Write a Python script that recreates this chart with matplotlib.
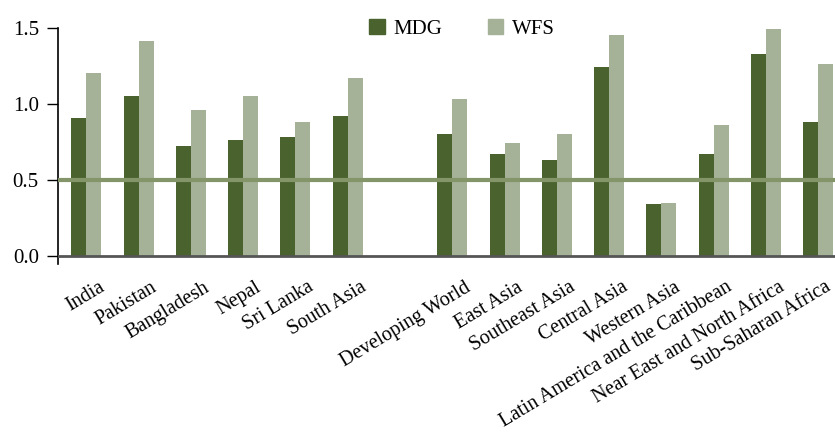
import matplotlib
matplotlib.use("Agg")
import matplotlib.pyplot as plt
import matplotlib.transforms as mtransforms
from matplotlib.patches import Patch
import numpy as np

plt.rcParams['font.family'] = ['Liberation Serif', 'DejaVu Serif']

# categories, with an empty slot between the two groups
categories = ['India', 'Pakistan', 'Bangladesh', 'Nepal', 'Sri Lanka', 'South Asia', '',
              'Developing World', 'East Asia', 'Southeast Asia', 'Central Asia', 'Western Asia',
              'Latin America and the Caribbean', 'Near East and North Africa', 'Sub-Saharan Africa']
mdg = [0.91, 1.05, 0.72, 0.76, 0.78, 0.92, None,
       0.80, 0.67, 0.63, 1.24, 0.34, 0.67, 1.33, 0.88]
wfs = [1.20, 1.41, 0.96, 1.05, 0.88, 1.17, None,
       1.03, 0.74, 0.80, 1.45, 0.35, 0.86, 1.49, 1.26]
yticks = [0.0, 0.5, 1.0, 1.5]

c_mdg = '#4a622e'
c_wfs = '#a6b298'
c_line = '#84956a'

fig = plt.figure(figsize=(8.35, 4.42), dpi=100)
ax = fig.add_axes([0.0698, 0.4027, 0.9302, 0.5346])

x = np.arange(len(categories))
w = 0.287
idx = [i for i in range(len(categories)) if mdg[i] is not None]
ax.bar(x[idx] - w / 2, [mdg[i] for i in idx], w, color=c_mdg, zorder=2)
ax.bar(x[idx] + w / 2, [wfs[i] for i in idx], w, color=c_wfs, zorder=2)

ax.axhline(0.5, color=c_line, lw=3, zorder=3)
ax.axhline(0.0, color='#555555', lw=2, zorder=4)

ax.set_xlim(-0.535, 14.32)
ax.set_ylim(-0.052, 1.5)
ax.set_yticks(yticks)
ax.set_yticklabels([f'{v:.1f}' for v in yticks], fontsize=15)
ax.tick_params(axis='y', length=8, width=1, direction='out', pad=6)

ax.set_xticks(x)
ax.set_xticklabels(categories, fontsize=14.5, rotation=31, ha='right', va='top',
                   rotation_mode='anchor')
ax.tick_params(axis='x', length=0, pad=10)
for i, lab in enumerate(ax.get_xticklabels()):
    dx = 6 if i == len(categories) - 1 else 12
    offset = mtransforms.ScaledTranslation(dx / 100, 0, fig.dpi_scale_trans)
    lab.set_transform(lab.get_transform() + offset)

for s in ['top', 'right', 'bottom']:
    ax.spines[s].set_visible(False)
ax.spines['left'].set_color('black')
ax.spines['left'].set_linewidth(1.2)

handles = [Patch(color=c_mdg, label='MDG'), Patch(color=c_wfs, label='WFS')]
fig.legend(handles=handles, loc='upper center', bbox_to_anchor=(0.553, 1.0), ncol=2,
           frameon=False, fontsize=15, handlelength=0.75, handleheight=0.75,
           columnspacing=2.2, handletextpad=0.4)

fig.savefig('out.png', dpi=100)
